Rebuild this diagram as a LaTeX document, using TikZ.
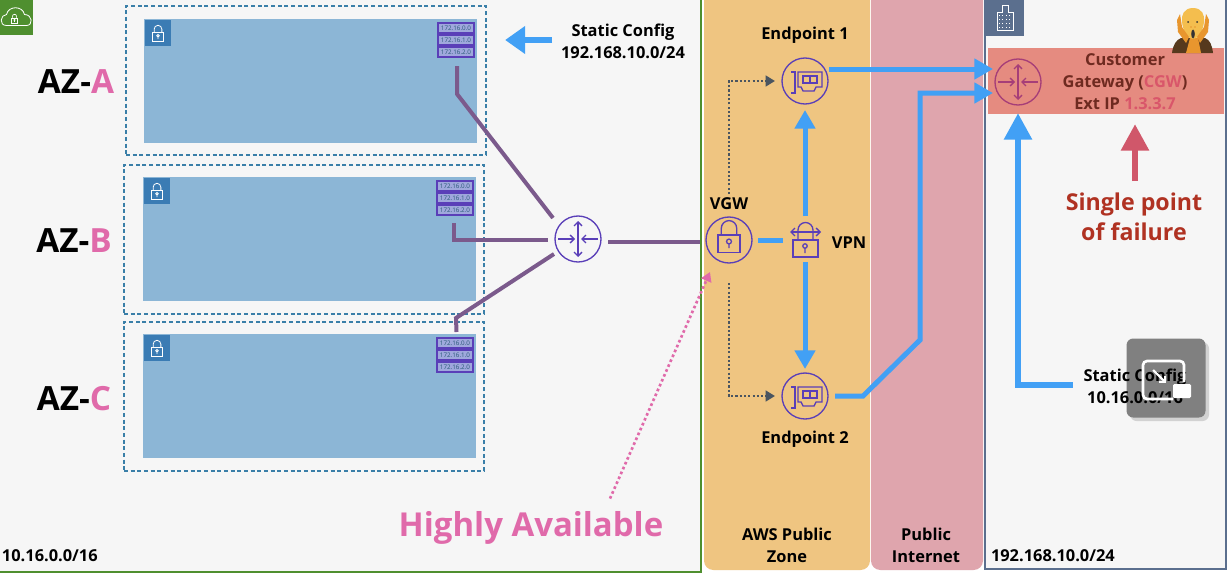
\documentclass[tikz,border=0pt]{standalone}
\usepackage{fontspec}
\setmainfont{Open Sans}
\usetikzlibrary{positioning,calc,arrows.meta,shadows}

\definecolor{paper}{HTML}{F6F6F6}
\definecolor{awsgreen}{HTML}{4F8F2F}
\definecolor{azblue}{HTML}{3A7FA8}
\definecolor{subnetblue}{HTML}{8CB6D6}
\definecolor{subnetdark}{HTML}{3B7CB4}
\definecolor{ipfill}{HTML}{9FA8DC}
\definecolor{awspurple}{HTML}{5A3FB8}
\definecolor{linkpurple}{HTML}{7B5A8C}
\definecolor{vpnblue}{HTML}{42A0F5}
\definecolor{zoneorange}{HTML}{EFC581}
\definecolor{zonepink}{HTML}{DFA5AD}
\definecolor{slate}{HTML}{5B6F8E}
\definecolor{cgwred}{HTML}{E58B80}
\definecolor{cgwring}{HTML}{A63E78}
\definecolor{cgwtext}{HTML}{6E2A20}
\definecolor{cgwhot}{HTML}{D9566A}
\definecolor{azpink}{HTML}{E06AAA}
\definecolor{failred}{HTML}{B03222}
\definecolor{arrowred}{HTML}{D0576A}
\definecolor{dotgrey}{HTML}{4A5560}
\definecolor{screamhead}{HTML}{F4BE4E}
\definecolor{screamhand}{HTML}{E8962E}

\def\px{0.75pt}

\tikzset{
    every node/.style={outer sep=0},
    lbl/.style={font=\bfseries\fontsize{12.3}{16.5}\selectfont,align=center,inner sep=0},
    azlbl/.style={font=\bfseries\fontsize{25}{30}\selectfont,inner sep=0},
    azbox/.style={draw=azblue,line width=1.4pt,densely dashed,minimum width=360*\px,minimum height=149*\px,anchor=north west},
    subnet/.style={fill=subnetblue,minimum width=333*\px,minimum height=124*\px,anchor=north west},
    lockbox/.style={fill=subnetdark,minimum size=26*\px,anchor=north west,inner sep=0},
    ipbox/.style={draw=awspurple,fill=ipfill,line width=1pt,minimum width=36*\px,minimum height=10*\px,inner sep=0,
        font=\fontsize{4.7}{5}\selectfont,text=azblue!70!black},
    round/.style={circle,draw=awspurple,line width=1pt,minimum size=46*\px,inner sep=0},
    link/.style={draw=linkpurple,line width=3pt},
    vpnline/.style={draw=vpnblue,line width=3.75pt},
    vpnarrow/.style={vpnline,-{Triangle[length=14pt,width=15pt]}},
    bigarrow/.style={draw=vpnblue,line width=5pt,-{Triangle[length=20pt,width=20pt]}},
    dotarrow/.style={draw=dotgrey,line width=1.8pt,dash pattern=on 1.6pt off 1.6pt,-{Triangle[length=7pt,width=8pt,fill=dotgrey]}},
    pics/routermark/.style={code={
        \draw[line width=1pt,{Straight Barb[length=3pt,width=6pt]}-{Straight Barb[length=3pt,width=6pt]}] (0,-18) -- (0,18);
        \draw[line width=1pt,-{Straight Barb[length=3pt,width=6pt]}] (-20,0) -- (-3,0);
        \draw[line width=1pt,-{Straight Barb[length=3pt,width=6pt]}] (20,0) -- (3,0);
    }},
    pics/lockmark/.style={code={
        \draw (-10,-1) rectangle (10,15);
        \draw (-7,-1) -- (-7,-7) arc[start angle=180,end angle=360,radius=7] -- (7,-1);
        \draw (0,5) circle[radius=2.2] (0,7) -- (0,11);
    }},
    pics/cardmark/.style={code={
        \draw[line width=1pt] (-14,-9) -- (-10,-9) -- (-10,12) -- (-14,12);
        \draw[line width=1pt] (-7,-9) -- (17,-9) -- (17,6) -- (11,6) -- (9,10) -- (-2,10) -- (-4,6) -- (-7,6) -- cycle;
        \draw[line width=1pt] (-2,-5) rectangle (12,2) (5,-5) -- (5,2);
    }},
}

\begin{document}
\begin{tikzpicture}[x=\px,y=-\px]
    \useasboundingbox (0,0) rectangle (1230,578);
    \fill[white] (0,0) rectangle (1230,578);

    % outer areas
    \node[draw=awsgreen,fill=paper,line width=1.6pt,minimum width=706*\px,minimum height=577*\px,anchor=north west] (vpc) at (-5,-5) {};
    \node[fill=zoneorange,rounded corners=7pt,minimum width=166*\px,minimum height=590*\px,anchor=south west] (awszone) at (704,570) {};
    \node[fill=zonepink,rounded corners=7pt,minimum width=112*\px,minimum height=590*\px,anchor=south west] (internet) at (871,570) {};
    \node[draw=slate,fill=paper,line width=1.5pt,minimum width=241*\px,minimum height=580*\px,anchor=south west] (onprem) at (985,569) {};

    % corner icons
    \node[fill=awsgreen,minimum width=33*\px,minimum height=35*\px,anchor=north west,inner sep=0] (vpcicon) at (0,0) {};
    \draw[white,line width=0.6pt] ($(vpcicon.center)+(-10,8)$) .. controls ($(vpcicon.center)+(-18,8)$) and ($(vpcicon.center)+(-16,-3)$) .. ($(vpcicon.center)+(-10,-3)$)
        .. controls ($(vpcicon.center)+(-8,-12)$) and ($(vpcicon.center)+(6,-12)$) .. ($(vpcicon.center)+(8,-3)$)
        .. controls ($(vpcicon.center)+(16,-3)$) and ($(vpcicon.center)+(17,8)$) .. ($(vpcicon.center)+(10,8)$) -- cycle;
    \pic[white,line width=0.5pt,scale=0.3] at ($(vpcicon.center)+(-2,1)$) {lockmark};
    \node[fill=slate,minimum width=38*\px,minimum height=36*\px,anchor=north west,inner sep=0] (dcicon) at (986,0) {};
    \draw[white,line width=0.6pt] ($(dcicon.center)+(-8,12)$) -- ($(dcicon.center)+(-8,-6)$) -- ($(dcicon.center)+(-3,-6)$) -- ($(dcicon.center)+(-3,-13)$) -- ($(dcicon.center)+(3,-13)$) -- ($(dcicon.center)+(3,-6)$) -- ($(dcicon.center)+(8,-6)$) -- ($(dcicon.center)+(8,12)$) -- cycle;
    \foreach \dy in {-3,1,5,9}
        \draw[white,line width=0.6pt,dotted] ($(dcicon.center)+(-6,\dy)$) -- ($(dcicon.center)+(6,\dy)$);

    % availability zones
    \foreach \az/\bx/\by/\sx/\sy in {A/126/6/144/19, B/124/165/143/177, C/124/322/143/334} {
        \node[azbox] (box\az) at (\bx,\by) {};
        \node[subnet] (subnet\az) at (\sx,\sy) {};
        \node[lockbox] (lock\az) at ($(\sx,\sy)+(1,1)$) {};
        \pic[white,line width=0.6pt,scale=0.55] at (lock\az.center) {lockmark};
        \node[ipbox] (ip\az one) at ($(\sx,\sy)+(312,9)$) {172.16.0.0};
        \node[ipbox,below=2*\px of ip\az one] (ip\az two) {172.16.1.0};
        \node[ipbox,below=2*\px of ip\az two] (ip\az three) {172.16.2.0};
    }
    \node[azlbl] (azA) at (76,82) {AZ-\textcolor{azpink}{A}};
    \node[azlbl] (azB) at (74,241) {AZ-\textcolor{azpink}{B}};
    \node[azlbl] (azC) at (74,399) {AZ-\textcolor{azpink}{C}};

    % routers and gateways
    \node[round] (router) at (578,239) {};
    \pic[awspurple] at (router.center) {routermark};
    \node[round] (vgw) at (729,240) {};
    \pic[awspurple,line width=1pt,scale=1.1] at ($(vgw.center)+(0,-4)$) {lockmark};
    \node[lbl,above=7*\px of vgw] (vgwlbl) {VGW};
    \node[minimum size=36*\px,inner sep=0] (vpn) at (805,240) {};
    \begin{scope}[awspurple,line width=1pt]
        \draw ($(vpn.center)+(-12,0)$) rectangle ($(vpn.center)+(13,17)$);
        \draw ($(vpn.center)+(-7,0)$) -- ($(vpn.center)+(-7,-10)$) arc[start angle=180,end angle=360,radius=7.5] -- ($(vpn.center)+(8,0)$);
        \draw[{Straight Barb[length=3pt,width=6pt]}-{Straight Barb[length=3pt,width=6pt]}] ($(vpn.center)+(-15,-8)$) -- ($(vpn.center)+(16,-8)$);
        \draw ($(vpn.center)+(0,6)$) circle[radius=2.2] ($(vpn.center)+(0,8)$) -- ($(vpn.center)+(0,13)$);
    \end{scope}
    \node[lbl] (vpnlbl) at (849,243) {VPN};
    \node[round] (endpointone) at (805,81) {};
    \pic[awspurple] at (endpointone.center) {cardmark};
    \node[lbl] (endpointonelbl) at (805,35) {Endpoint 1};
    \node[round] (endpointtwo) at (805,396) {};
    \pic[awspurple] at (endpointtwo.center) {cardmark};
    \node[lbl] (endpointtwolbl) at (805,439) {Endpoint 2};

    % customer gateway
    \node[fill=cgwred,minimum width=236*\px,minimum height=66*\px,anchor=north west] (cgwbox) at (988,48) {};
    \node[round,draw=cgwring] (cgw) at (1018,82) {};
    \pic[cgwring] at (cgw.center) {routermark};
    \node[lbl,text=cgwtext] (cgwlbl) at (1125,82) {Customer\\Gateway (\textcolor{cgwhot}{CGW})\\Ext IP \textcolor{cgwhot}{1.3.3.7}};

    % purple links
    \coordinate (bendA) at (457,94);
    \coordinate (bendB) at (454,240);
    \coordinate (bendC) at (456,318);
    \draw[link] ($(ipAthree.south)+(1,9)$) -- (bendA) -- ($(router.center)+(-25,-21)$);
    \draw[link] ($(ipBthree.south)+(-1,8)$) -- (bendB) -- ($(router.west)+(-7,1)$);
    \draw[link] ($(subnetC.north)+(147,-2)$) -- (bendC) -- ($(router.center)+(-24,15)$);
    \draw[link] ($(router.east)+(7,3)$) -- ($(vgw.west)+(-6,2)$);

    % vpn paths
    \draw[vpnline] ($(vgw.east)+(6,0)$) -- ($(vpn.west)+(-4,0)$);
    \draw[vpnarrow] ($(vpn.north)+(0,-6)$) -- ($(endpointone.south)+(0,6)$);
    \draw[vpnarrow] ($(vpn.south)+(0,4)$) -- ($(endpointtwo.north)+(0,-4)$);
    \draw[dotarrow] ($(vgw.north)+(0,-23)$) -- (vgw.north |- endpointone) -- ($(endpointone.west)+(-7,0)$);
    \draw[dotarrow] ($(vgw.south)+(0,20)$) -- (vgw.south |- endpointtwo) -- ($(endpointtwo.west)+(-7,0)$);
    \coordinate (kneelow) at (863,396);
    \coordinate (kneehigh) at (920,340);
    \coordinate (kneetop) at (920,93);
    \draw[vpnarrow] ($(endpointone.east)+(1,-12)$) -- ($(cgw.west)+(-2,-13)$);
    \draw[vpnarrow] ($(endpointtwo.east)+(7,0)$) -- (kneelow) -- (kneehigh) -- (kneetop) -- ($(cgw.west)+(-2,11)$);

    % static config
    \node[lbl] (staticaws) at (623,41) {Static Config\\192.168.10.0/24};
    \draw[vpnline,line width=5pt,-{Triangle[length=15pt,width=20pt]}] ($(staticaws.west)+(-9,-1)$) -- ($(staticaws.west)+(-56,-1)$);
    \node[fill=black!50,rounded corners=5pt,minimum size=79*\px,drop shadow={opacity=0.3}] (player) at (1166,378) {};
    \node[lbl] (staticcgw) at (1135,386) {Static Config\\10.16.0.0/16};
    \coordinate (kneecgw) at (1018,385);
    \draw[bigarrow] ($(staticcgw.west)+(-11,-1)$) -- (kneecgw) -- ($(cgw.south)+(0,8)$);
    \draw[white,line width=2pt,rounded corners=3pt] ($(player.center)+(7,21)$) -- ($(player.center)+(-23,21)$) -- ($(player.center)+(-23,-17)$) -- ($(player.center)+(18,-17)$) -- ($(player.center)+(18,4)$);
    \draw[white,line width=1.6pt,-{Straight Barb[length=3pt,width=6pt]}] ($(player.center)+(-13,-8)$) -- ($(player.center)+(0,5)$);
    \fill[white,rounded corners=1pt] ($(player.center)+(7,6)$) rectangle ($(player.center)+(25,20)$);

    % failure note
    \node[lbl,font=\bfseries\fontsize{17.4}{22.5}\selectfont,text=failred] (failure) at (1134,217) {Single point\\of failure};
    \draw[draw=arrowred,line width=5pt,-{Triangle[length=20pt,width=20pt]}] ($(failure.north)+(1,-12)$) -- ($(cgwbox.south)+(29,10)$);

    % highly available
    \node[lbl,font=\bfseries\fontsize{24.7}{30}\selectfont,text=azpink] (highly) at (531,528) {Highly Available};
    \draw[draw=azpink,line width=2pt,dash pattern=on 2pt off 2pt,-{Triangle[length=7pt,width=8pt,fill=azpink]}] ($(highly.north)+(79,-13)$) -- ($(vgw.south)+(-19,9)$);

    % area labels
    \node[lbl,anchor=west] (vpclbl) at (2,556) {10.16.0.0/16};
    \node[lbl] (awszonelbl) at (787,545) {AWS Public\\Zone};
    \node[lbl] (internetlbl) at (926,545) {Public\\Internet};
    \node[lbl,anchor=west] (onpremlbl) at (991,556) {192.168.10.0/24};

    % scream figure
    \fill[black!55!brown] (1172,53) .. controls (1173,45) and (1176,40) .. (1181,38) -- (1205,38) .. controls (1210,40) and (1212,45) .. (1213,53) -- cycle;
    \fill[screamhand] (1186,53) -- (1190,38) -- (1198,38) -- (1201,53) -- cycle;
    \fill[screamhead] (1193,8) .. controls (1202,8) and (1205,15) .. (1204,22) .. controls (1203,30) and (1199,39) .. (1193,39) .. controls (1187,39) and (1183,30) .. (1182,22) .. controls (1181,15) and (1184,8) .. (1193,8) -- cycle;
    \fill[screamhand] (1180,14) -- (1177,20) -- (1178,32) -- (1186,43) -- (1189,37) -- (1182,27) -- cycle;
    \fill[screamhand] (1206,14) -- (1209,20) -- (1208,32) -- (1200,43) -- (1197,37) -- (1204,27) -- cycle;
    \fill[black!80] (1188,22) circle[radius=1] (1197,22) circle[radius=1];
    \fill[screamhand] (1191,27) circle[radius=0.8] (1195,27) circle[radius=0.8];
    \fill[black!80] (1193,34) ellipse[x radius=1.8,y radius=4.5];
\end{tikzpicture}
\end{document}
